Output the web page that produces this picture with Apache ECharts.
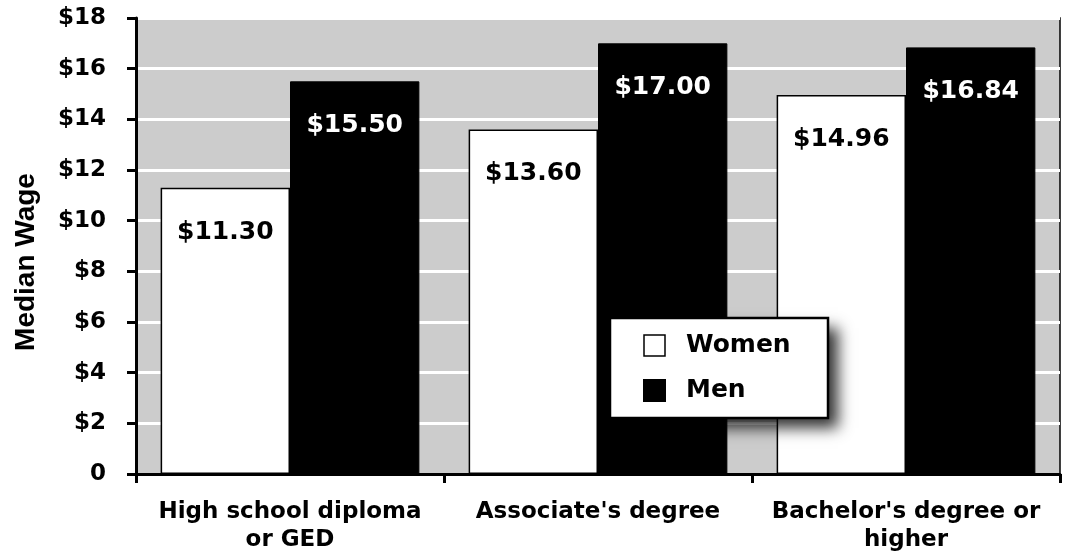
<!DOCTYPE html>
<html>
<head>
<meta charset="utf-8">
<script src="https://cdn.jsdelivr.net/npm/echarts@6/dist/echarts.min.js"></script>
<style>
  html, body { margin: 0; padding: 0; background: #fff; }
  #chart { width: 1069px; height: 554px; }
</style>
</head>
<body>
<div id="chart"></div>
<script>
const categories = ['High school diploma\nor GED', "Associate's degree", "Bachelor's degree or\nhigher"]
const women = [11.30, 13.60, 14.96]
const men = [15.50, 17.00, 16.84]
const yTicks = [0, 2, 4, 6, 8, 10, 12, 14, 16, 18]

const font = 'Verdana, "DejaVu Sans", sans-serif'

const myChart = echarts.init(document.getElementById('chart'))
myChart.setOption({
  animation: false,
  grid: {
    left: 136,
    right: 9,
    top: 18,
    bottom: 80,
    show: true,
    backgroundColor: '#cccccc',
    borderColor: '#000',
    borderWidth: 1.5
  },
  // legend box with drop shadow
  graphic: [
    {
      type: 'rect',
      z: 10,
      shape: { x: 610, y: 318, width: 218, height: 100 },
      style: {
        fill: '#fff',
        shadowColor: 'rgba(0,0,0,0.8)',
        shadowBlur: 14,
        shadowOffsetX: 10,
        shadowOffsetY: 10
      }
    },
    {
      type: 'rect',
      z: 11,
      shape: { x: 610, y: 318, width: 218, height: 100 },
      style: { fill: '#fff', stroke: '#000', lineWidth: 2.5 }
    }
  ],
  legend: {
    orient: 'vertical',
    left: 643,
    top: 333,
    padding: 0,
    z: 20,
    itemGap: 20,
    itemWidth: 21,
    itemHeight: 21,
    textStyle: { fontFamily: font, fontWeight: 'bold', fontSize: 25, color: '#000', padding: [0, 0, 0, 16] },
    data: [
      { name: 'Women', icon: 'rect', itemStyle: { color: '#fff', borderColor: '#000', borderWidth: 1.5 } },
      { name: 'Men', icon: 'rect', itemStyle: { color: '#000' } }
    ]
  },
  xAxis: {
    type: 'category',
    data: categories,
    axisLine: { lineStyle: { color: '#000', width: 3 } },
    axisTick: { show: true, interval: 0, length: 9, lineStyle: { color: '#000', width: 3 } },
    axisLabel: {
      interval: 0,
      hideOverlap: false,
      fontFamily: font,
      fontWeight: 'bold',
      fontSize: 23,
      color: '#000',
      lineHeight: 28,
      margin: 24
    }
  },
  yAxis: {
    type: 'value',
    min: 0,
    max: 18,
    interval: 2,
    name: 'Median Wage',
    nameLocation: 'middle',
    nameGap: 96,
    nameTextStyle: {
      fontFamily: '"Liberation Sans", Arial, sans-serif',
      fontWeight: 'bold',
      fontSize: 28,
      color: '#000',
      padding: [0, 0, 0, -32]
    },
    axisLine: { show: true, lineStyle: { color: '#000', width: 3 } },
    axisTick: { show: true, length: 9, lineStyle: { color: '#000', width: 3 } },
    splitLine: { lineStyle: { color: '#fff', width: 3 } },
    axisLabel: {
      fontFamily: font,
      fontWeight: 'bold',
      fontSize: 23,
      color: '#000',
      margin: 30,
      formatter: function (v) {
        return yTicks.indexOf(v) >= 0 && v !== 0 ? '$' + v : '0'
      }
    }
  },
  series: [
    {
      name: 'Women',
      type: 'bar',
      data: women,
      barGap: '0%',
      barCategoryGap: '16%',
      itemStyle: { color: '#fff', borderColor: '#000', borderWidth: 1.5 },
      label: {
        show: true,
        position: 'insideTop',
        distance: 32,
        fontFamily: font,
        fontWeight: 'bold',
        fontSize: 25,
        color: '#000',
        formatter: function (p) { return '$' + p.value.toFixed(2) }
      }
    },
    {
      name: 'Men',
      type: 'bar',
      data: men,
      barGap: '0%',
      barCategoryGap: '16%',
      itemStyle: { color: '#000', borderColor: '#000', borderWidth: 1 },
      label: {
        show: true,
        position: 'insideTop',
        distance: 32,
        fontFamily: font,
        fontWeight: 'bold',
        fontSize: 25,
        color: '#fff',
        formatter: function (p) { return '$' + p.value.toFixed(2) }
      }
    }
  ]
})
</script>
</body>
</html>
